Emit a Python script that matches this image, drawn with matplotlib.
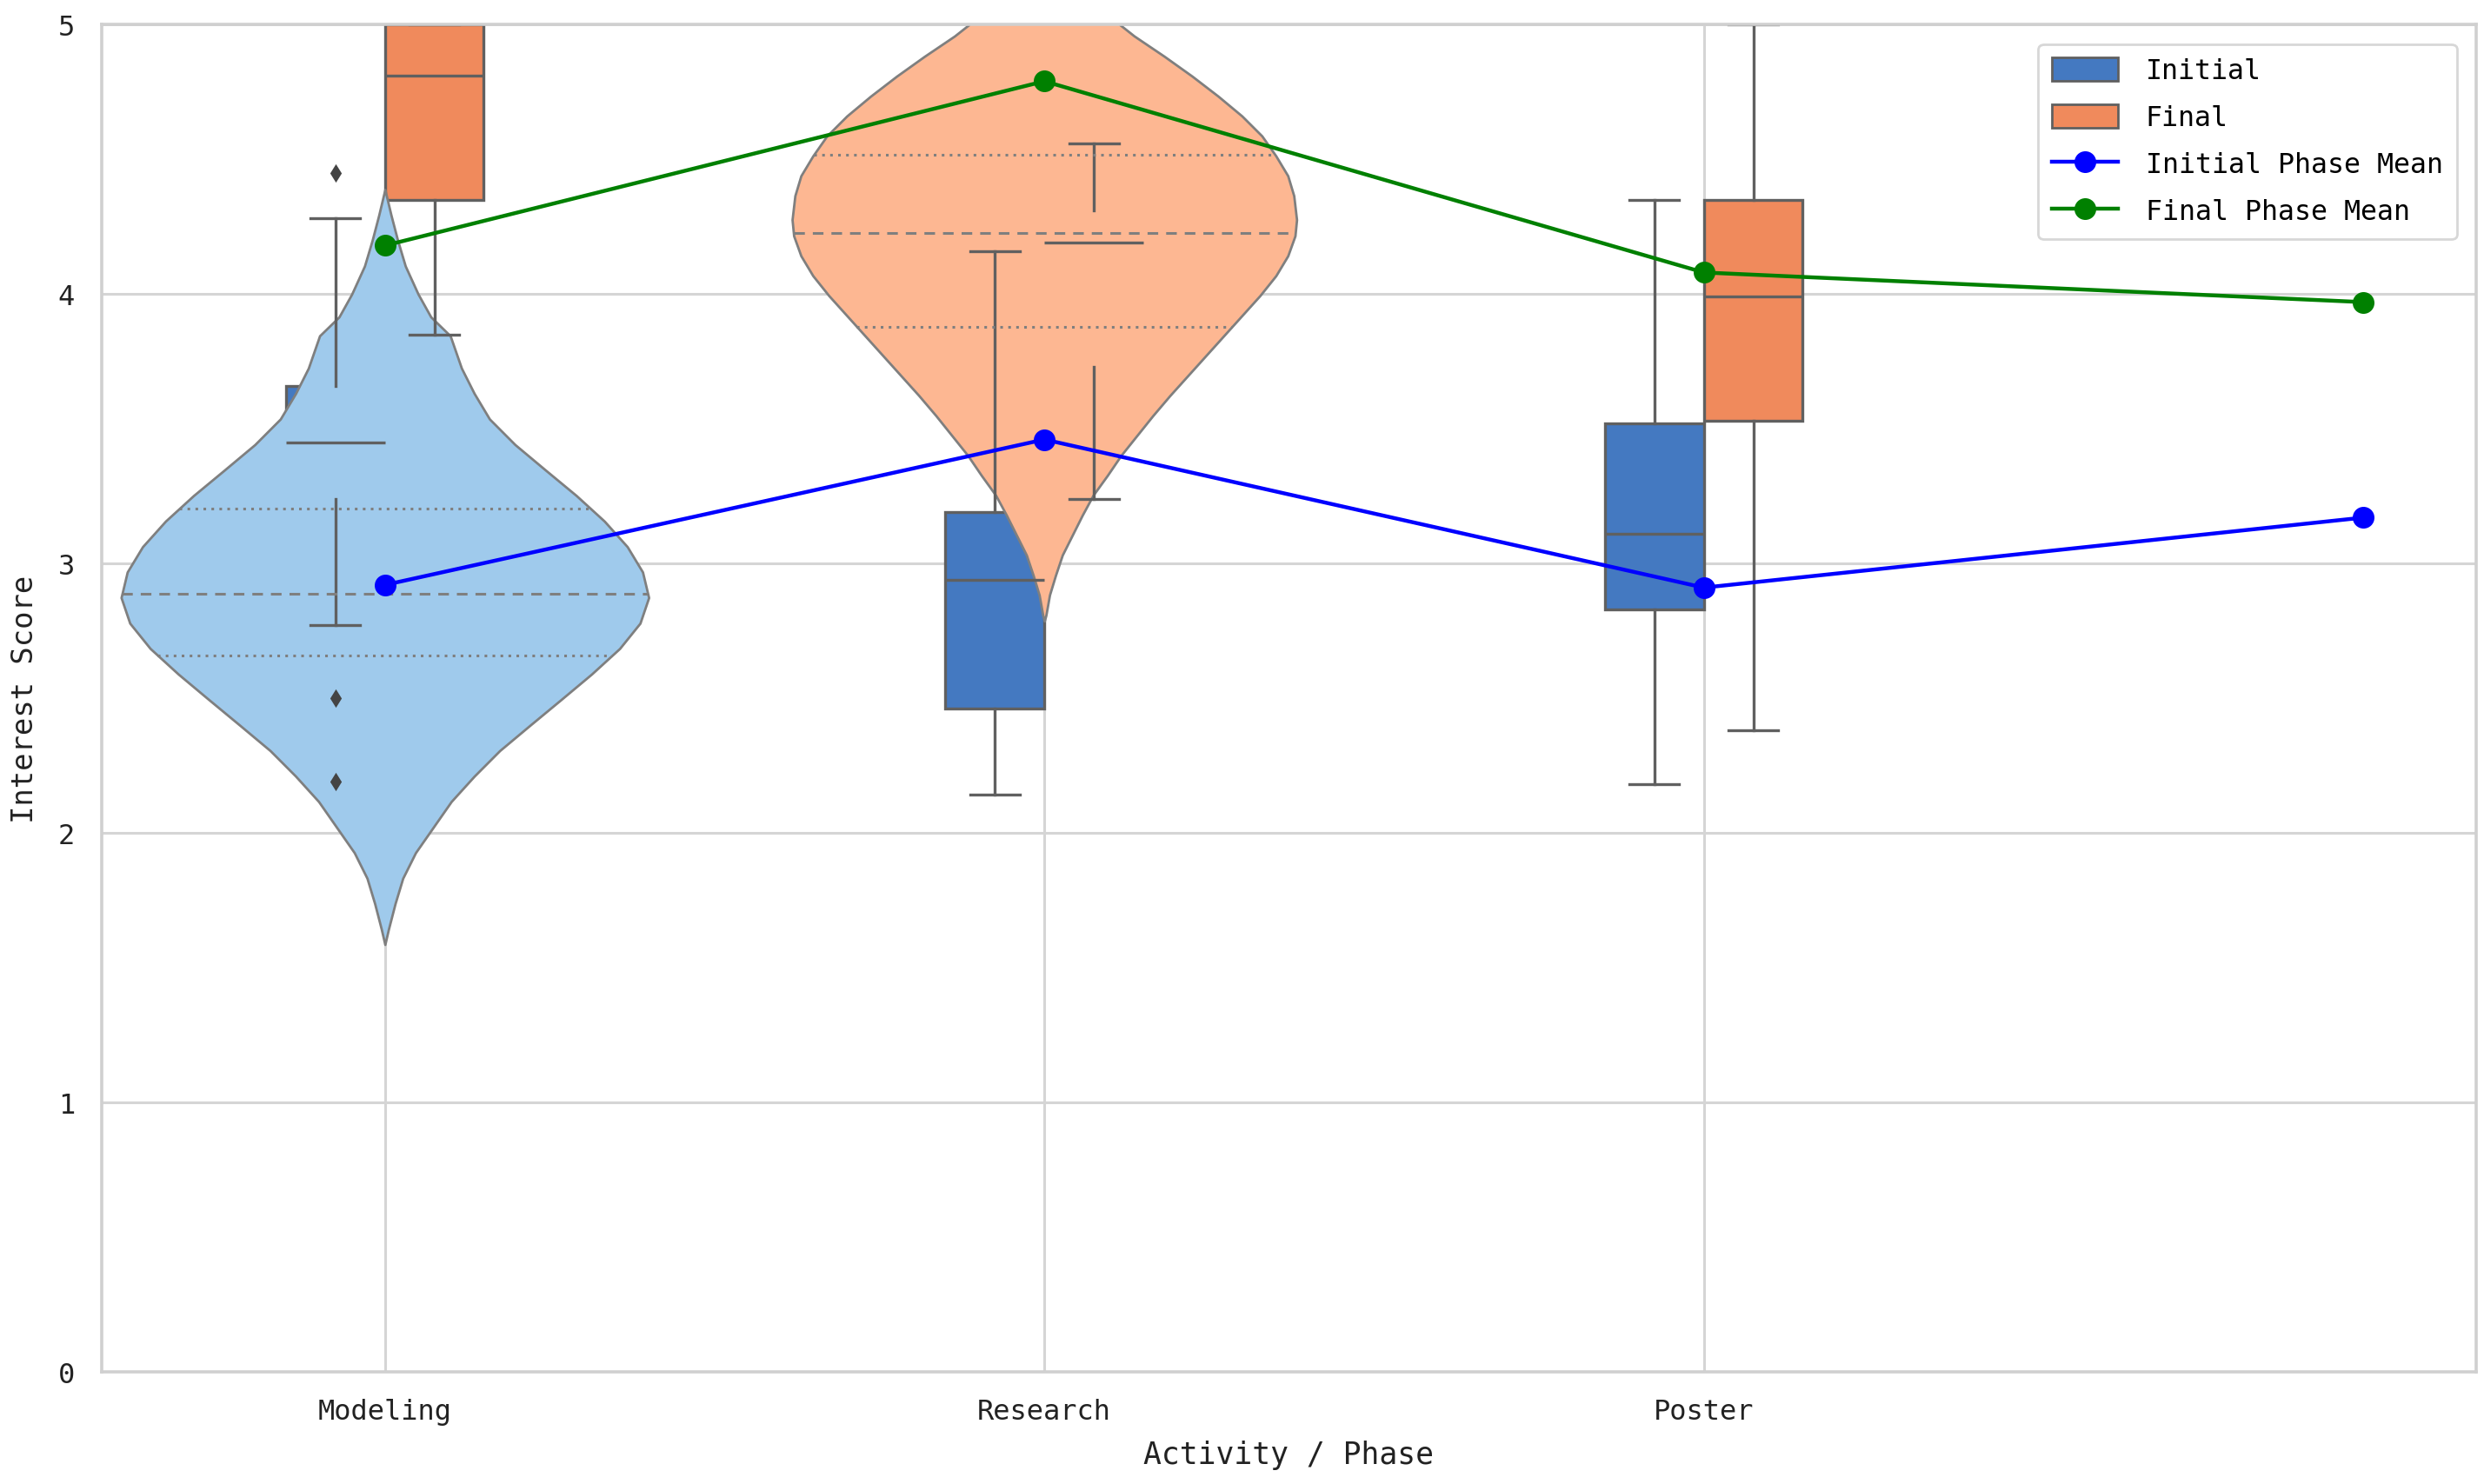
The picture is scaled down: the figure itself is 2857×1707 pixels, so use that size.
import numpy as np
import matplotlib
matplotlib.use("Agg")
import matplotlib.pyplot as plt
from matplotlib.patches import Patch
from matplotlib.lines import Line2D

plt.rcParams['font.family'] = ['DejaVu Sans Mono']

activities = ['Modeling', 'Research', 'Poster']
phases = ['Initial', 'Final']

# box summaries: (whislo, q1, median, q3, whishi)
initial_box = [(2.77, 3.24, 3.45, 3.66, 4.28),
               (2.14, 2.46, 2.94, 3.19, 4.16),
               (2.18, 2.83, 3.11, 3.52, 4.35)]
final_box = [(3.85, 4.35, 4.81, 5.00, 5.00),
             (3.24, 3.73, 4.19, 4.31, 4.56),
             (2.38, 3.53, 3.99, 4.35, 5.00)]
initial_fliers = [[4.45, 2.50, 2.19], [], []]
final_fliers = [[], [], []]

# phase means (4 points)
mean_x = [0, 1, 2, 3]
initial_mean = [2.92, 3.46, 2.91, 3.17]
final_mean = [4.18, 4.79, 4.08, 3.97]

# violin density profiles (score level, relative density)
modeling_y = [1.585, 1.642, 1.737, 1.831, 1.926, 2.021, 2.116, 2.210, 2.305, 2.400,
              2.494, 2.589, 2.684, 2.778, 2.873, 2.968, 3.062, 3.157, 3.252, 3.346,
              3.441, 3.536, 3.631, 3.725, 3.845, 3.915, 4.000, 4.104, 4.199, 4.293, 4.388]
modeling_d = [0, 7, 20, 35, 60, 95, 130, 175, 225, 285,
              345, 405, 460, 500, 517, 505, 475, 430, 375, 315,
              255, 205, 175, 150, 128, 90, 65, 40, 25, 12, 0]
modeling_q = [2.659, 2.886, 3.203]

research_y = [2.786, 2.808, 2.883, 2.956, 3.031, 3.105, 3.179, 3.253, 3.327, 3.401,
              3.475, 3.549, 3.624, 3.698, 3.772, 3.846, 3.920, 3.994, 4.068, 4.142,
              4.216, 4.276, 4.365, 4.439, 4.513, 4.587, 4.661, 4.735, 4.809, 4.883,
              4.958, 4.999, 5.106, 5.180, 5.254, 5.328, 5.402]
research_d = [0, 4, 13, 28, 45, 70, 95, 122, 158, 192,
              232, 272, 315, 360, 405, 450, 495, 540, 580, 610,
              628, 632, 625, 610, 580, 545, 495, 435, 370, 300,
              225, 190, 140, 90, 50, 20, 0]
research_q = [3.879, 4.227, 4.517]

violin_y = [modeling_y, research_y]
violin_d = [modeling_d, research_d]
violin_q = [modeling_q, research_q]
violin_w = [0.80, 0.765]

c_box = ['#4479C1', '#F08A5C']
c_violin = ['#9FCAEC', '#FDB792']
line_c = '#606060'

fig = plt.figure(figsize=(14.285, 8.54), dpi=200)
ax = fig.add_axes([0.0408, 0.0758, 0.956, 0.907])

def stats(box, fl):
    lo, q1, med, q3, hi = box
    return dict(whislo=lo, q1=q1, med=med, q3=q3, whishi=hi, fliers=fl)

xs = np.arange(len(activities))
for i, (boxes, fliers) in enumerate([(initial_box, initial_fliers), (final_box, final_fliers)]):
    off = -0.075 if i == 0 else 0.075
    bp = ax.bxp([stats(b, f) for b, f in zip(boxes, fliers)], positions=xs + off,
                widths=0.15, patch_artist=True, manage_ticks=False,
                boxprops=dict(facecolor=c_box[i], edgecolor=line_c, linewidth=1.2),
                whiskerprops=dict(color=line_c, linewidth=1.2),
                capprops=dict(color=line_c, linewidth=1.2),
                medianprops=dict(color=line_c, linewidth=1.2),
                flierprops=dict(marker='d', markerfacecolor='#444444',
                                markeredgecolor='#444444', markersize=4))
    for p in bp['boxes']:
        p.set_zorder(1)
    for k in ['whiskers', 'caps', 'medians', 'fliers']:
        for l in bp[k]:
            l.set_zorder(2)

# violins: Modeling drawn in Initial tone, Research in Final tone
for i in range(2):
    y = np.array(violin_y[i])
    d = np.array(violin_d[i], dtype=float)
    vp = ax.violin([dict(coords=y, vals=d, mean=0, median=0, min=y[0], max=y[-1])],
                   positions=[i], widths=[violin_w[i]], showmeans=False,
                   showextrema=False, showmedians=False)
    for b in vp['bodies']:
        b.set_facecolor(c_violin[i])
        b.set_edgecolor('#7f7f7f')
        b.set_linewidth(1.0)
        b.set_alpha(1)
        b.set_zorder(1)
        b.set_joinstyle('round')
    for j, q in enumerate(violin_q[i]):
        hw = np.interp(q, y, d) / d.max() * violin_w[i] / 2
        ax.plot([i - hw, i + hw], [q, q], color='#7f7f7f', linewidth=1.1,
                linestyle='--' if j == 1 else ':', zorder=2,
                dashes=(4, 3) if j == 1 else (1, 2))

ax.plot(mean_x, initial_mean, color='blue', marker='o', markersize=8,
        linewidth=1.6, zorder=4)
ax.plot(mean_x, final_mean, color='green', marker='o', markersize=8,
        linewidth=1.6, zorder=4)

ax.set_xlim(-0.43, 3.171)
ax.set_ylim(0, 5)
ax.set_xticks(xs)
ax.set_xticklabels(activities)
ax.set_yticks(range(6))
ax.tick_params(length=0, labelsize=11.5, pad=11, colors='#222222')
ax.set_axisbelow(True)
ax.grid(True, color='#d5d5d5', linewidth=1.1)
for s in ax.spines.values():
    s.set_color('#d0d0d0')
    s.set_linewidth(1.3)
ax.set_xlabel('Activity / Phase', fontsize=12.5, labelpad=6, color='#222222')
ax.set_ylabel('Interest Score', fontsize=12.2, labelpad=8, color='#222222')

handles = [Patch(facecolor=c_box[0], edgecolor=line_c, label='Initial'),
           Patch(facecolor=c_box[1], edgecolor=line_c, label='Final'),
           Line2D([], [], color='blue', marker='o', markersize=8, linewidth=1.6,
                  label='Initial Phase Mean'),
           Line2D([], [], color='green', marker='o', markersize=8, linewidth=1.6,
                  label='Final Phase Mean')]
leg = ax.legend(handles=handles, loc='upper right', fontsize=11.4, frameon=True,
                fancybox=True, framealpha=0.85, edgecolor='#d0d0d0',
                handlelength=2.4, handleheight=0.9, handletextpad=1.0,
                labelspacing=0.72, borderpad=0.5, borderaxespad=0.7)

fig.savefig('out.png', dpi=200)
